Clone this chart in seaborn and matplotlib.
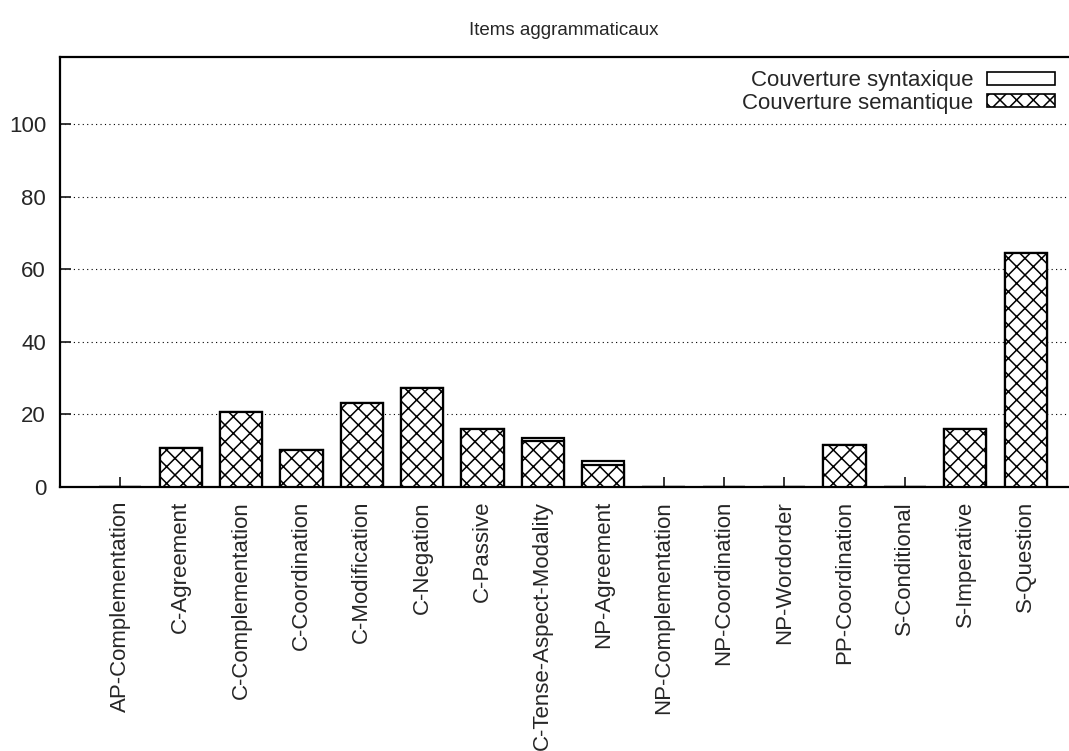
import seaborn as sns
import matplotlib.pyplot as plt
import matplotlib.patches as mpatches
import pandas as pd

categories = ['AP-Complementation', 'C-Agreement', 'C-Complementation', 'C-Coordination',
              'C-Modification', 'C-Negation', 'C-Passive', 'C-Tense-Aspect-Modality',
              'NP-Agreement', 'NP-Complementation', 'NP-Coordination', 'NP-Wordorder',
              'PP-Coordination', 'S-Conditional', 'S-Imperative', 'S-Question']
syntaxique = [0, 10.8, 20.7, 10.2, 23.1, 27.3, 16.1, 13.4, 7.2, 0, 0, 0, 11.6, 0, 16.1, 64.5]
semantique = [0, 10.8, 20.7, 10.2, 23.1, 27.3, 16.1, 12.8, 6.2, 0, 0, 0, 11.6, 0, 16.1, 64.5]

df = pd.DataFrame({'item': categories, 'syn': syntaxique, 'sem': semantique})

sns.set_style('white')
plt.rcParams['font.family'] = ['Liberation Sans', 'DejaVu Sans']
plt.rcParams['hatch.linewidth'] = 1.1

fig = plt.figure(figsize=(10.69, 7.51), dpi=100)
ax = fig.add_axes([0.0561, 0.3515, 0.9429, 0.5725])

sns.barplot(data=df, x='item', y='syn', color='white', edgecolor='black',
            linewidth=1.6, width=0.7, ax=ax, zorder=2)
n = len(ax.patches)
sns.barplot(data=df, x='item', y='sem', color='white', edgecolor='black',
            linewidth=1.6, width=0.7, ax=ax, zorder=3)
for p in ax.patches[n:]:
    p.set_hatch('xx')

ax.set_xlim(-1.0, 15.7)
ax.set_ylim(0, 118.5)
ax.set_yticks([0, 20, 40, 60, 80, 100])
ax.set_xlabel('')
ax.set_ylabel('')
ax.set_title('Items aggrammaticaux', fontsize=13.5, pad=16)

ax.yaxis.grid(True, linestyle=(0, (1, 3)), color='black', linewidth=0.8)
ax.set_axisbelow(True)
for g in ax.get_ygridlines()[:1]:
    g.set_visible(False)

ax.tick_params(axis='x', direction='in', length=7, width=1.3, labelsize=16,
               labelrotation=90, pad=10, bottom=True)
ax.tick_params(axis='y', direction='in', length=8, width=1.3, labelsize=16,
               pad=10, left=True)
for lbl in ax.get_xticklabels():
    lbl.set_va('top')
    lbl.set_ha('center')

for s in ['left', 'bottom', 'top']:
    ax.spines[s].set_linewidth(1.6)
    ax.spines[s].set_color('black')
ax.spines['right'].set_visible(False)

h1 = mpatches.Patch(facecolor='white', edgecolor='black', linewidth=1.2)
h2 = mpatches.Patch(facecolor='white', edgecolor='black', linewidth=1.2, hatch='xx')
ax.legend([h1, h2], ['Couverture syntaxique', 'Couverture semantique'],
          loc='upper right', bbox_to_anchor=(1.003, 1.005), frameon=False,
          markerfirst=False, fontsize=16, handlelength=3.1, handleheight=0.5,
          labelspacing=0.05, handletextpad=0.6, borderaxespad=0.3)

fig.savefig('out.png', dpi=100)
